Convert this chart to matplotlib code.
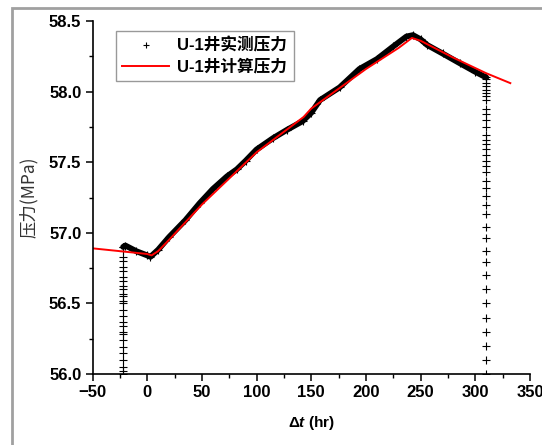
import numpy as np
import matplotlib.pyplot as plt
from matplotlib.patches import Rectangle
from matplotlib.ticker import MultipleLocator

# measured pressure, drawdown column at the start of the test
left_col_t = -22
left_col_p = [56.90, 56.87, 56.83, 56.80, 56.76, 56.73, 56.69, 56.66, 56.62, 56.60,
              56.57, 56.55, 56.52, 56.50, 56.45, 56.41, 56.37, 56.34, 56.30, 56.28,
              56.24, 56.19, 56.15, 56.10, 56.05, 56.02, 56.00]

# measured pressure, main build-up curve
main_t = [-22, -20, -10, 0, 3, 10, 20, 35, 48, 60, 73, 82, 90, 100, 115, 128, 142,
          150, 158, 176, 194, 210, 225, 237, 243, 250, 256, 270, 286, 300, 310]
main_p = [56.90, 56.91, 56.87, 56.84, 56.83, 56.88, 56.97, 57.09, 57.21, 57.31, 57.40,
          57.45, 57.51, 57.59, 57.67, 57.73, 57.79, 57.85, 57.94, 58.03, 58.16, 58.23,
          58.32, 58.39, 58.40, 58.37, 58.33, 58.27, 58.20, 58.14, 58.10]

# measured pressure, drop at the end of the test
right_col_t = 310
right_col_p = [58.09, 58.06, 58.04, 58.01, 57.99, 57.97, 57.94, 57.88, 57.84, 57.80,
               57.75, 57.69, 57.66, 57.63, 57.59, 57.55, 57.51, 57.47, 57.43, 57.37,
               57.32, 57.26, 57.20, 57.13, 57.04, 56.96, 56.87, 56.79, 56.70, 56.60,
               56.50, 56.40, 56.30, 56.20, 56.10, 56.00]

# calculated pressure
calc_t = [-50, -25, 0, 4, 10, 20, 50, 100, 143, 150, 200, 230, 242, 250, 280, 310, 332]
calc_p = [56.89, 56.87, 56.85, 56.84, 56.87, 56.95, 57.20, 57.57, 57.82, 57.88, 58.16,
          58.31, 58.38, 58.36, 58.24, 58.13, 58.06]

label_meas = 'U-1井实测压力'
label_calc = 'U-1井计算压力'

plt.rcParams['font.family'] = ['Liberation Sans', 'Noto Sans CJK SC', 'DejaVu Sans']
plt.rcParams['mathtext.fontset'] = 'custom'
plt.rcParams['mathtext.rm'] = 'Liberation Sans:bold'
plt.rcParams['mathtext.it'] = 'Liberation Sans:italic:bold'

fig = plt.figure(figsize=(5.42, 4.45), dpi=100)
ax = fig.add_axes([92.5 / 542, 1 - 374 / 445, 437.5 / 542, 353 / 445])

# outer grey frame
fig.patches.append(Rectangle((12 / 542, -0.1), 1.2, 1 - 8 / 445 + 0.1,
                             transform=fig.transFigure, fill=False,
                             edgecolor='#a0a0a0', lw=2))

meas_t = [left_col_t] * len(left_col_p) + main_t + [right_col_t] * len(right_col_p)
meas_p = left_col_p + main_p + right_col_p

ax.plot(main_t, main_p, '-', color='black', lw=4.2, solid_capstyle='round',
        solid_joinstyle='round')
ax.plot(meas_t, meas_p, '+', color='black', ms=6, mew=0.8, ls='none',
        label=label_meas)
ax.plot(calc_t, calc_p, '-', color='red', lw=1.4, label=label_calc)

ax.set_xlim(-50, 350)
ax.set_ylim(56.0, 58.5)
ax.xaxis.set_major_locator(MultipleLocator(50))
ax.xaxis.set_minor_locator(MultipleLocator(25))
ax.yaxis.set_major_locator(MultipleLocator(0.5))
ax.yaxis.set_minor_locator(MultipleLocator(0.25))
ax.yaxis.set_major_formatter(plt.FormatStrFormatter('%.1f'))

for s in ['top', 'right']:
    ax.spines[s].set_visible(False)
for s in ['left', 'bottom']:
    ax.spines[s].set_linewidth(1.2)

ax.tick_params(which='major', direction='out', length=5, width=1.1,
               labelsize=12, pad=3)
ax.tick_params(which='minor', direction='out', length=3, width=1.0)
for lab in ax.get_xticklabels() + ax.get_yticklabels():
    lab.set_fontweight('bold')

ax.set_xlabel('$\\mathrm{Δ}\\mathit{t}$ (hr)', fontsize=11, fontweight='bold',
              labelpad=10)
ax.set_ylabel('压力(MPa)', fontsize=12.5, family=['Noto Sans CJK SC', 'DejaVu Sans'],
              color='#333333', labelpad=8)

leg = ax.legend(loc='upper left', bbox_to_anchor=(0.053, 0.972), borderaxespad=0,
                frameon=True, fancybox=False, edgecolor='#808080', handlelength=2.8,
                handletextpad=0.5, borderpad=0.4, labelspacing=0.3,
                prop={'weight': 'bold', 'size': 12})
leg.get_frame().set_linewidth(1.0)
leg.legend_handles[0].set_markersize(5)

fig.savefig('out.png', dpi=100)
